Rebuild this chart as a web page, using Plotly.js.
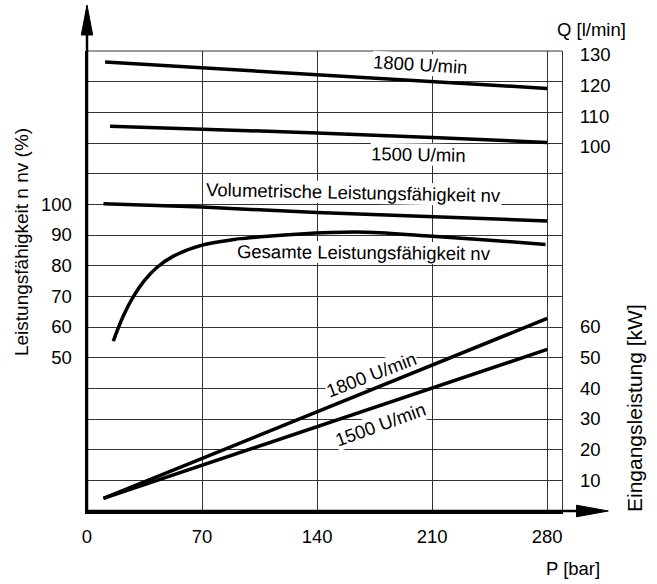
<!DOCTYPE html>
<html>
<head>
<meta charset="utf-8">
<script src="https://cdn.plot.ly/plotly-3.0.1.min.js"></script>
<style>html,body{margin:0;padding:0;background:#fff;}#chart{width:657px;height:584px;}</style>
</head>
<body>
<div id="chart"></div>
<script>
// Pressure (bar) and flow Q (l/min)
var q1800P = [11, 70, 140, 210, 280];
var q1800Q = [126.4, 124.5, 122.2, 120.0, 117.8];
var q1500P = [14, 70, 140, 210, 280];
var q1500Q = [105.5, 104.6, 103.3, 101.8, 100.2];
// Volumetric efficiency (%)
var volP = [10, 70, 140, 210, 280];
var volEff = [100.2, 99.1, 97.3, 95.9, 94.6];
// Overall efficiency (%)
var totP = [16, 22, 28.2, 35, 42.5, 52.6, 70, 89.5, 110, 148, 170, 210, 245, 279];
var totEff = [55.4, 63.5, 69.9, 75.2, 79.4, 83.1, 86.7, 88.5, 89.6, 90.8, 90.9, 89.6, 88.3, 86.9];
// Input power (kW)
var pw1800P = [10, 280];
var pw1800kW = [4.1, 62.8];
var pw1500P = [10, 280];
var pw1500kW = [4.1, 52.7];

// Tick labels
var xTicks = [0, 70, 140, 210, 280];
var effTickVals = [0,10,20,30,40,50,60,70,80,90,100,110,120,130,140,150];
var effTickText = ['','','','','','50','60','70','80','90','100','','','','',''];
var qTicks = [100, 110, 120, 130];
var kwTicks = [10, 20, 30, 40, 50, 60];

var FONT = 'Liberation Sans, Arial, sans-serif';
var FS = 18.5;
var lineStyle = {color: '#000', width: 3.5};

var traces = [
  {x: q1800P, y: q1800Q, yaxis: 'y2', mode: 'lines', line: lineStyle, name: 'Q 1800'},
  {x: q1500P, y: q1500Q, yaxis: 'y2', mode: 'lines', line: lineStyle, name: 'Q 1500'},
  {x: volP, y: volEff, yaxis: 'y', mode: 'lines', line: lineStyle, name: 'vol'},
  {x: totP, y: totEff, yaxis: 'y', mode: 'lines', line: {color: '#000', width: 3.5, shape: 'spline', smoothing: 1}, name: 'tot'},
  {x: pw1800P, y: pw1800kW, yaxis: 'y3', mode: 'lines', line: lineStyle, name: 'P 1800'},
  {x: pw1500P, y: pw1500kW, yaxis: 'y3', mode: 'lines', line: lineStyle, name: 'P 1500'}
];

function lbl(text, x, y, yref, angle) {
  return {text: text, x: x, y: y, xref: 'x', yref: yref, showarrow: false,
    xanchor: 'center', yanchor: 'middle', textangle: angle,
    bgcolor: '#fff', borderpad: 0, font: {family: FONT, size: FS, color: '#000'}};
}
function ptxt(text, x, y, angle, size) {
  return {text: text, x: x, y: y, xref: 'paper', yref: 'paper', showarrow: false,
    xanchor: 'center', yanchor: 'middle', textangle: angle,
    font: {family: FONT, size: size, color: '#000'}};
}
var tf = {family: FONT, size: FS, color: '#000'};

var layout = {
  width: 657, height: 584,
  margin: {l: 87, r: 95, t: 51, b: 73, pad: 0},
  paper_bgcolor: '#fff', plot_bgcolor: '#fff',
  showlegend: false,
  font: {family: FONT, size: FS, color: '#000'},
  xaxis: {
    range: [0, 289], tickvals: xTicks, ticks: '', showgrid: true,
    gridcolor: '#333', gridwidth: 1, zeroline: false,
    showline: true, linecolor: '#000', linewidth: 2.5,
    ticklabelstandoff: 7, tickfont: tf
  },
  yaxis: {
    range: [0, 150], tickvals: effTickVals, ticktext: effTickText, ticks: '',
    showgrid: true, gridcolor: '#333', gridwidth: 1, zeroline: false,
    showline: true, linecolor: '#000', linewidth: 2.5,
    ticklabelstandoff: 9, tickfont: tf
  },
  yaxis2: {
    range: [-20, 130], overlaying: 'y', side: 'right', anchor: 'x',
    tickvals: qTicks, ticks: '', showgrid: false, zeroline: false,
    showline: true, linecolor: '#333', linewidth: 1,
    ticklabelstandoff: 13, ticklabelshift: 4, tickfont: tf
  },
  yaxis3: {
    range: [0, 150], overlaying: 'y', side: 'right', anchor: 'x',
    tickvals: kwTicks, ticks: '', showgrid: false, zeroline: false,
    showline: false, ticklabelstandoff: 17, tickfont: tf
  },
  shapes: [
    {type: 'line', xref: 'paper', yref: 'paper', x0: 0, x1: 1, y0: 1, y1: 1, line: {color: '#333', width: 1}},
    {type: 'line', xref: 'paper', yref: 'paper', x0: 0, x1: 1.031, y0: 0, y1: 0, line: {color: '#000', width: 2.5}},
    {type: 'path', xref: 'paper', yref: 'paper', path: 'M 1.0975,0 L 1.0305,0.0126 L 1.0305,-0.0126 Z', fillcolor: '#000', line: {color: '#000', width: 1}},
    {type: 'line', xref: 'paper', yref: 'paper', x0: 0, x1: 0, y0: 0, y1: 1.035, line: {color: '#000', width: 2.5}},
    {type: 'path', xref: 'paper', yref: 'paper', path: 'M 0,1.1 L -0.012,1.0348 L 0.012,1.0348 Z', fillcolor: '#000', line: {color: '#000', width: 1}}
  ],
  annotations: [
    lbl('1800 U/min', 203, 125.7, 'y2', 3.4),
    lbl('1500 U/min', 201.8, 96.4, 'y2', 1),
    lbl('Volumetrische Leistungsfähigkeit nv', 162.4, 103.7, 'y', 1.2),
    lbl('Gesamte Leistungsfähigkeit nv', 168.5, 84.4, 'y', 0.5),
    lbl('1800 U/min', 173.2, 44.6, 'y3', -21),
    lbl('1500 U/min', 178.6, 28.3, 'y3', -20),
    ptxt('Q [l/min]', 1.063, 1.0467, 0, FS),
    ptxt('P [bar]', 1.0238, -0.126, 0, FS),
    ptxt('Leistungsfähigkeit n nv (%)', -0.1368, 0.5848, -90, 19),
    ptxt('Eingangsleistung [kW]', 1.1516, 0.2239, -90, 21)
  ]
};

Plotly.newPlot('chart', traces, layout, {displayModeBar: false, staticPlot: true});
</script>
</body>
</html>
